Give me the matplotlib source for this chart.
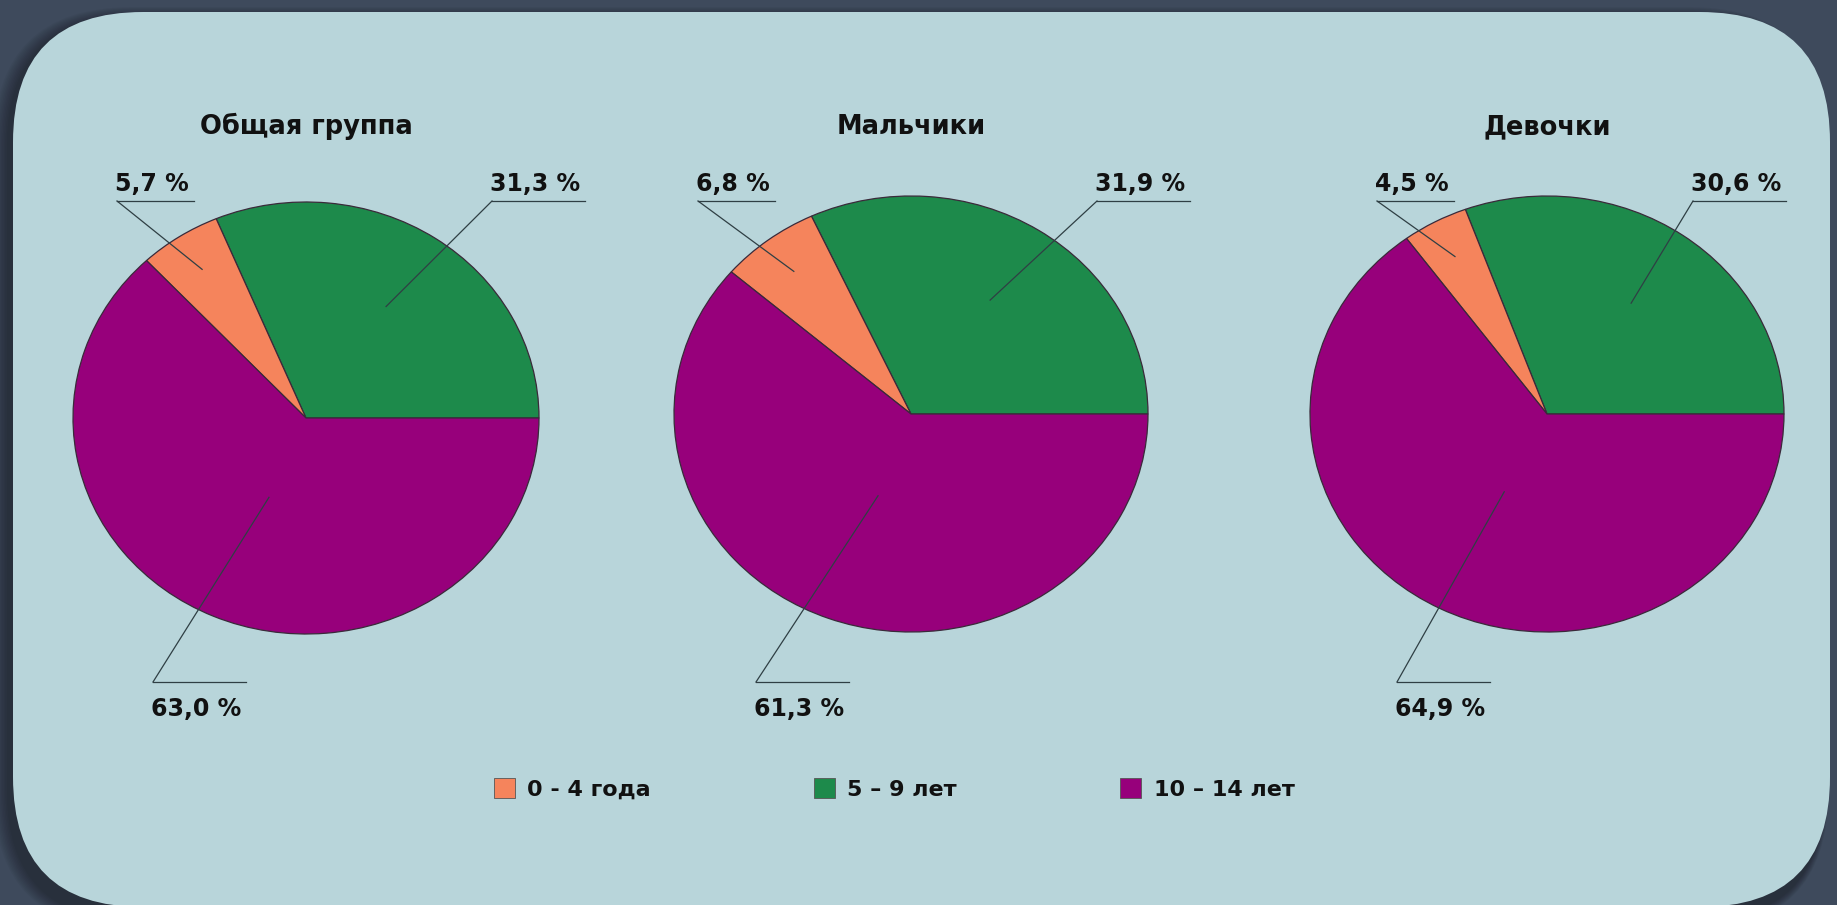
import numpy as np
import matplotlib
matplotlib.use('Agg')
import matplotlib.pyplot as plt
from matplotlib.patches import FancyBboxPatch, Patch

plt.rcParams['font.family'] = ['DejaVu Sans']

# data
groups = ['Общая группа', 'Мальчики', 'Девочки']
age_labels = ['0 - 4 года', '5 – 9 лет', '10 – 14 лет']
share_0_4 = [5.7, 6.8, 4.5]
share_5_9 = [31.3, 31.9, 30.6]
share_10_14 = [63.0, 61.3, 64.9]

col_orange = '#f5845c'
col_green = '#1d8a4b'
col_purple = '#97007b'

# layout (pixels of the 1837x905 picture)
W, H = 1837, 905
pie_centers = [(306, 418), (911, 414), (1547, 414)]
pie_radii = [(233, 216), (237, 218), (237, 218)]
# x of the elbow of the leader line: green, orange, purple
elbow_x = [(492, 117, 153), (1097, 698, 756), (1693, 1377, 1397)]
anchor_r = [0.62, 0.82, 0.40]
upper_y, lower_y = 201, 682

fig = plt.figure(figsize=(W / 100, H / 100), dpi=100)
fig.patch.set_facecolor('#3e4a5c')

bg = fig.add_axes([0, 0, 1, 1], zorder=0)
bg.set_xlim(0, W)
bg.set_ylim(H, 0)
bg.axis('off')

# soft shadow under the panel
for k in range(10):
    bg.add_patch(FancyBboxPatch(
        (13 - 6 - k * 1.5, 12 + 4 - k), 1817 + 2 * k, 905 + 2 * k,
        boxstyle='round,pad=0,rounding_size=%d' % (130 + k),
        facecolor='black', edgecolor='none', alpha=0.035))
bg.add_patch(FancyBboxPatch(
    (13, 12), 1817, 895, boxstyle='round,pad=0,rounding_size=130',
    facecolor='#b8d5da', edgecolor='none'))

over = fig.add_axes([0, 0, 1, 1], zorder=3)
over.set_xlim(0, W)
over.set_ylim(H, 0)
over.axis('off')
over.patch.set_alpha(0)

texts = []
for i, name in enumerate(groups):
    cx, cy = pie_centers[i]
    rx, ry = pie_radii[i]
    ax = fig.add_axes([(cx - rx) / W, (H - cy - ry) / H, 2 * rx / W, 2 * ry / H],
                      zorder=1)
    vals = [share_5_9[i], share_0_4[i], share_10_14[i]]
    wedges, _ = ax.pie(vals, colors=[col_green, col_orange, col_purple],
                       startangle=0, counterclock=True, radius=1,
                       wedgeprops=dict(edgecolor='#3a2a3a', linewidth=0.9))
    ax.set_aspect('auto')
    ax.set_xlim(-1, 1)
    ax.set_ylim(-1, 1)
    ax.axis('off')

    over.text(cx, 134, name, ha='center', va='baseline',
              fontsize=18.5, fontweight='bold', color='#111111')

    for j, w in enumerate(wedges):
        mid = np.deg2rad((w.theta1 + w.theta2) / 2)
        px = cx + rx * anchor_r[j] * np.cos(mid)
        py = cy - ry * anchor_r[j] * np.sin(mid)
        ex = elbow_x[i][j]
        if j == 2:
            ey, ty = lower_y, lower_y + 34
        else:
            ey, ty = upper_y, upper_y - 10
        over.plot([px, ex], [py, ey], color='#2f3f44', lw=0.9)
        label = ('%.1f' % vals[j]).replace('.', ',') + ' %'
        t = over.text(ex - 2, ty, label, ha='left', va='baseline',
                      fontsize=17, fontweight='bold', color='#111111')
        texts.append((t, ex, ey))

# horizontal part of each leader spans its label
fig.canvas.draw()
for t, ex, ey in texts:
    width = t.get_window_extent().width
    over.plot([ex, ex + width + 3], [ey, ey], color='#2f3f44', lw=0.9)

handles = [Patch(facecolor=c, edgecolor='#555555', linewidth=0.6)
           for c in (col_orange, col_green, col_purple)]
fig.legend(handles, age_labels, loc='center', ncol=3, frameon=False,
           bbox_to_anchor=(894 / W, 1 - 789 / H),
           prop=dict(weight='bold', size=16),
           handlelength=0.95, handleheight=0.95, handletextpad=0.55,
           columnspacing=7.35, labelcolor='#111111')

fig.savefig('out.png', dpi=100, facecolor=fig.get_facecolor())
